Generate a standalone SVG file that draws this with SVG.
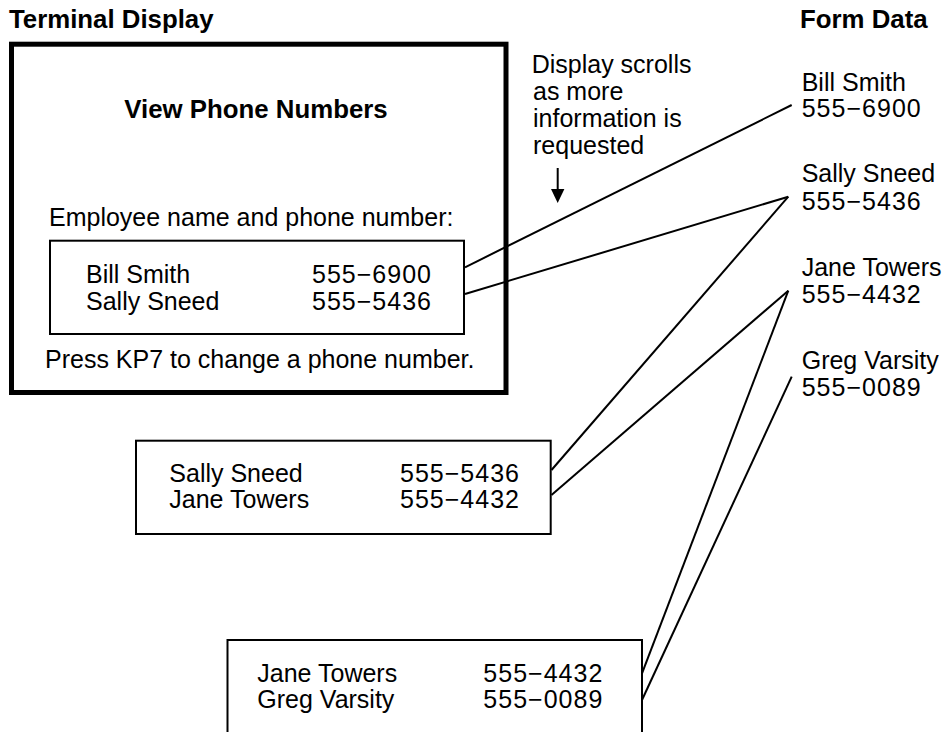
<svg xmlns="http://www.w3.org/2000/svg" width="946" height="732" viewBox="0 0 946 732">
<style>
text{font-family:"Liberation Sans",Arial,Helvetica,sans-serif;font-size:25px;fill:#000}
.b{font-weight:bold;font-size:25.8px}
.box{fill:none;stroke:#000;stroke-width:2}
.outer{fill:none;stroke:#000;stroke-width:5}
.conn line{stroke:#000;stroke-width:2}
</style>
<rect width="946" height="732" fill="#fff"/>
<text class="b" x="9" y="28">Terminal Display</text>
<text class="b" x="800" y="28">Form Data</text>
<g id="terminal">
<rect class="outer" x="11.5" y="44.2" width="494.5" height="348.3"/>
<text class="b" x="256" y="118" text-anchor="middle">View Phone Numbers</text>
<text x="49" y="226">Employee name and phone number:</text>
<text x="45" y="368">Press KP7 to change a phone number.</text>
</g>
<g id="screen1">
<rect class="box" x="50" y="240.7" width="414" height="93.3"/>
<text x="86" y="283">Bill Smith</text>
<text x="312" y="283" textLength="119" lengthAdjust="spacing">555−6900</text>
<text x="86" y="309.5">Sally Sneed</text>
<text x="312" y="309.5" textLength="119" lengthAdjust="spacing">555−5436</text>
</g>
<g id="screen2">
<rect class="box" x="136" y="440.7" width="414.7" height="93.3"/>
<text x="169.3" y="481.7">Sally Sneed</text>
<text x="400" y="481.7" textLength="119" lengthAdjust="spacing">555−5436</text>
<text x="169.3" y="508.3">Jane Towers</text>
<text x="400" y="508.3" textLength="119" lengthAdjust="spacing">555−4432</text>
</g>
<g id="screen3">
<rect class="box" x="227.5" y="640" width="414.5" height="93.3"/>
<text x="257.3" y="681.7">Jane Towers</text>
<text x="483.3" y="681.7" textLength="119" lengthAdjust="spacing">555−4432</text>
<text x="257.3" y="708.3">Greg Varsity</text>
<text x="483.3" y="708.3" textLength="119" lengthAdjust="spacing">555−0089</text>
</g>
<g id="note">
<text x="531.7" y="73.3">Display scrolls</text>
<text x="533" y="100">as more</text>
<text x="533" y="127.3">information is</text>
<text x="533" y="154">requested</text>
<line x1="557.7" y1="168" x2="557.7" y2="190" stroke="#000" stroke-width="2"/>
<polygon points="551,189 564.4,189 557.7,203" fill="#000"/>
</g>
<g id="form">
<text x="801.7" y="90.5">Bill Smith</text>
<text x="801.7" y="116.7" textLength="119" lengthAdjust="spacing">555−6900</text>
<text x="801.7" y="181.7">Sally Sneed</text>
<text x="801.7" y="210" textLength="119" lengthAdjust="spacing">555−5436</text>
<text x="801.7" y="276">Jane Towers</text>
<text x="801.7" y="303.3" textLength="119" lengthAdjust="spacing">555−4432</text>
<text x="801.7" y="369.3">Greg Varsity</text>
<text x="801.7" y="396" textLength="119" lengthAdjust="spacing">555−0089</text>
</g>
<g id="connectors" class="conn">
<line x1="465" y1="267.3" x2="791.7" y2="105"/>
<line x1="465" y1="294" x2="788.3" y2="196.7"/>
<line x1="788.3" y1="196.7" x2="551.5" y2="470"/>
<line x1="788.3" y1="290.7" x2="551.5" y2="495"/>
<line x1="788.3" y1="290.7" x2="642" y2="673.3"/>
<line x1="791.7" y1="376.7" x2="642" y2="700"/>
</g>
</svg>
